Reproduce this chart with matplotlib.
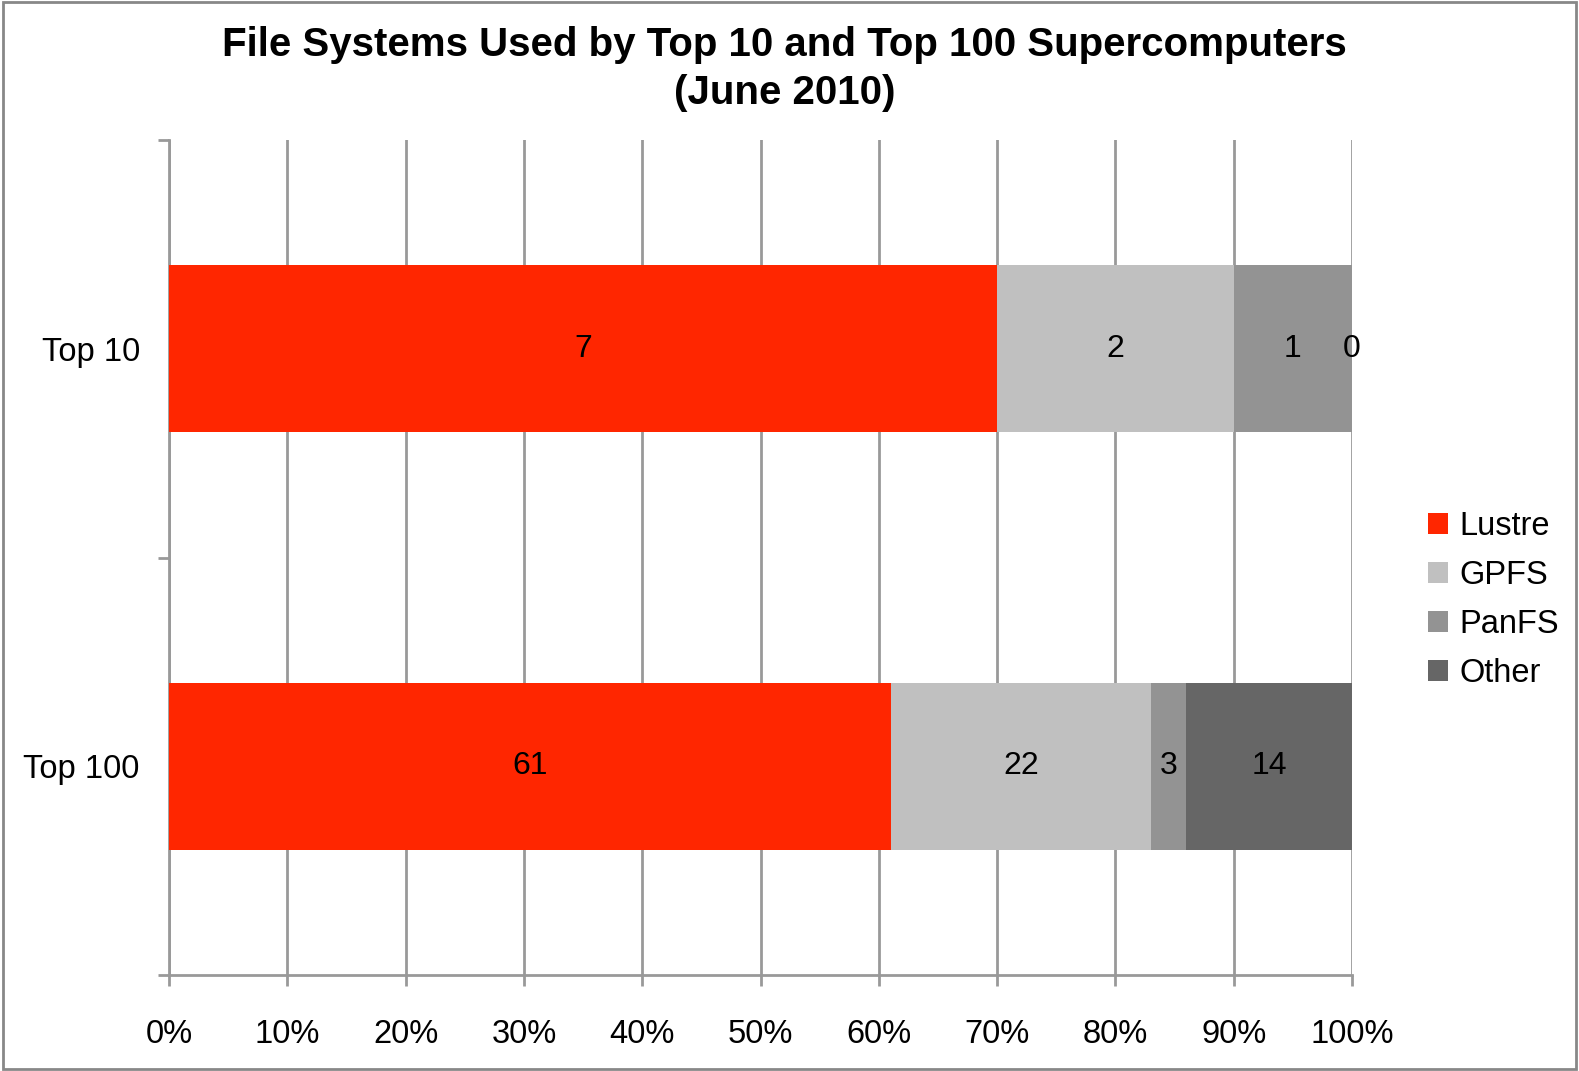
import matplotlib
matplotlib.use("Agg")
import matplotlib.pyplot as plt
import numpy as np
from matplotlib.patches import Rectangle

categories = ["Top 10", "Top 100"]
series_names = ["Lustre", "GPFS", "PanFS", "Other"]
lustre = [7, 61]
gpfs = [2, 22]
panfs = [1, 3]
other = [0, 14]
colors = ["#FF2600", "#C0C0C0", "#939393", "#666666"]
xtick_labels = ["0%", "10%", "20%", "30%", "40%", "50%", "60%", "70%", "80%", "90%", "100%"]

plt.rcParams['font.family'] = ['Liberation Sans', 'DejaVu Sans']

fig = plt.figure(figsize=(15.79, 10.71), dpi=100)
ax = fig.add_axes([169/1579, 1 - 975/1071, (1352-169)/1579, (975-140)/1071])

data = np.array([lustre, gpfs, panfs, other], dtype=float)
totals = data.sum(axis=0)
pct = data / totals * 100
ypos = np.arange(len(categories))
left = np.zeros(len(categories))
for i, name in enumerate(series_names):
    ax.barh(ypos, pct[i], left=left, height=0.4, color=colors[i], label=name, zorder=3)
    for j in range(len(categories)):
        ax.text(left[j] + pct[i][j] / 2, ypos[j], f"{int(data[i][j])}",
                ha="center", va="center", fontsize=23, zorder=4)
    left += pct[i]

ax.set_xlim(0, 100)
ax.set_ylim(1.5, -0.5)
ax.set_xticks(np.arange(0, 101, 10))
ax.set_xticklabels(xtick_labels, fontsize=23.5)
ax.set_yticks(ypos)
ax.set_yticklabels(categories, fontsize=23.5)
ax.set_yticks([-0.5, 0.5, 1.5], minor=True)
ax.tick_params(axis='y', which='major', length=0, pad=21)
ax.tick_params(axis='y', which='minor', length=8, color="#999999", width=2, direction='out')
ax.tick_params(axis='x', which='major', length=8, color="#999999", width=2, direction='out', pad=24)
ax.grid(axis='x', color="#999999", linewidth=2, zorder=0)
for s in ["top", "right"]:
    ax.spines[s].set_visible(False)
for s in ["left", "bottom"]:
    ax.spines[s].set_color("#999999")
    ax.spines[s].set_linewidth(2)

fig.suptitle("File Systems Used by Top 10 and Top 100 Supercomputers\n(June 2010)",
             fontsize=29, fontweight="bold", x=0.497, y=1 - 26/1071, va="top",
             linespacing=1.35)

leg = fig.legend(loc="center left", bbox_to_anchor=(1428/1579, 1 - 600/1071),
                 frameon=False, fontsize=23.5, handlelength=0.6, handleheight=0.6,
                 handletextpad=0.35, labelspacing=0.55, borderaxespad=0, borderpad=0)

fig.patches.append(Rectangle((0.002, 0.002), 0.996, 0.996, transform=fig.transFigure,
                             fill=False, edgecolor="#888888", linewidth=2))
fig.savefig("out.png", dpi=100, facecolor="white")
